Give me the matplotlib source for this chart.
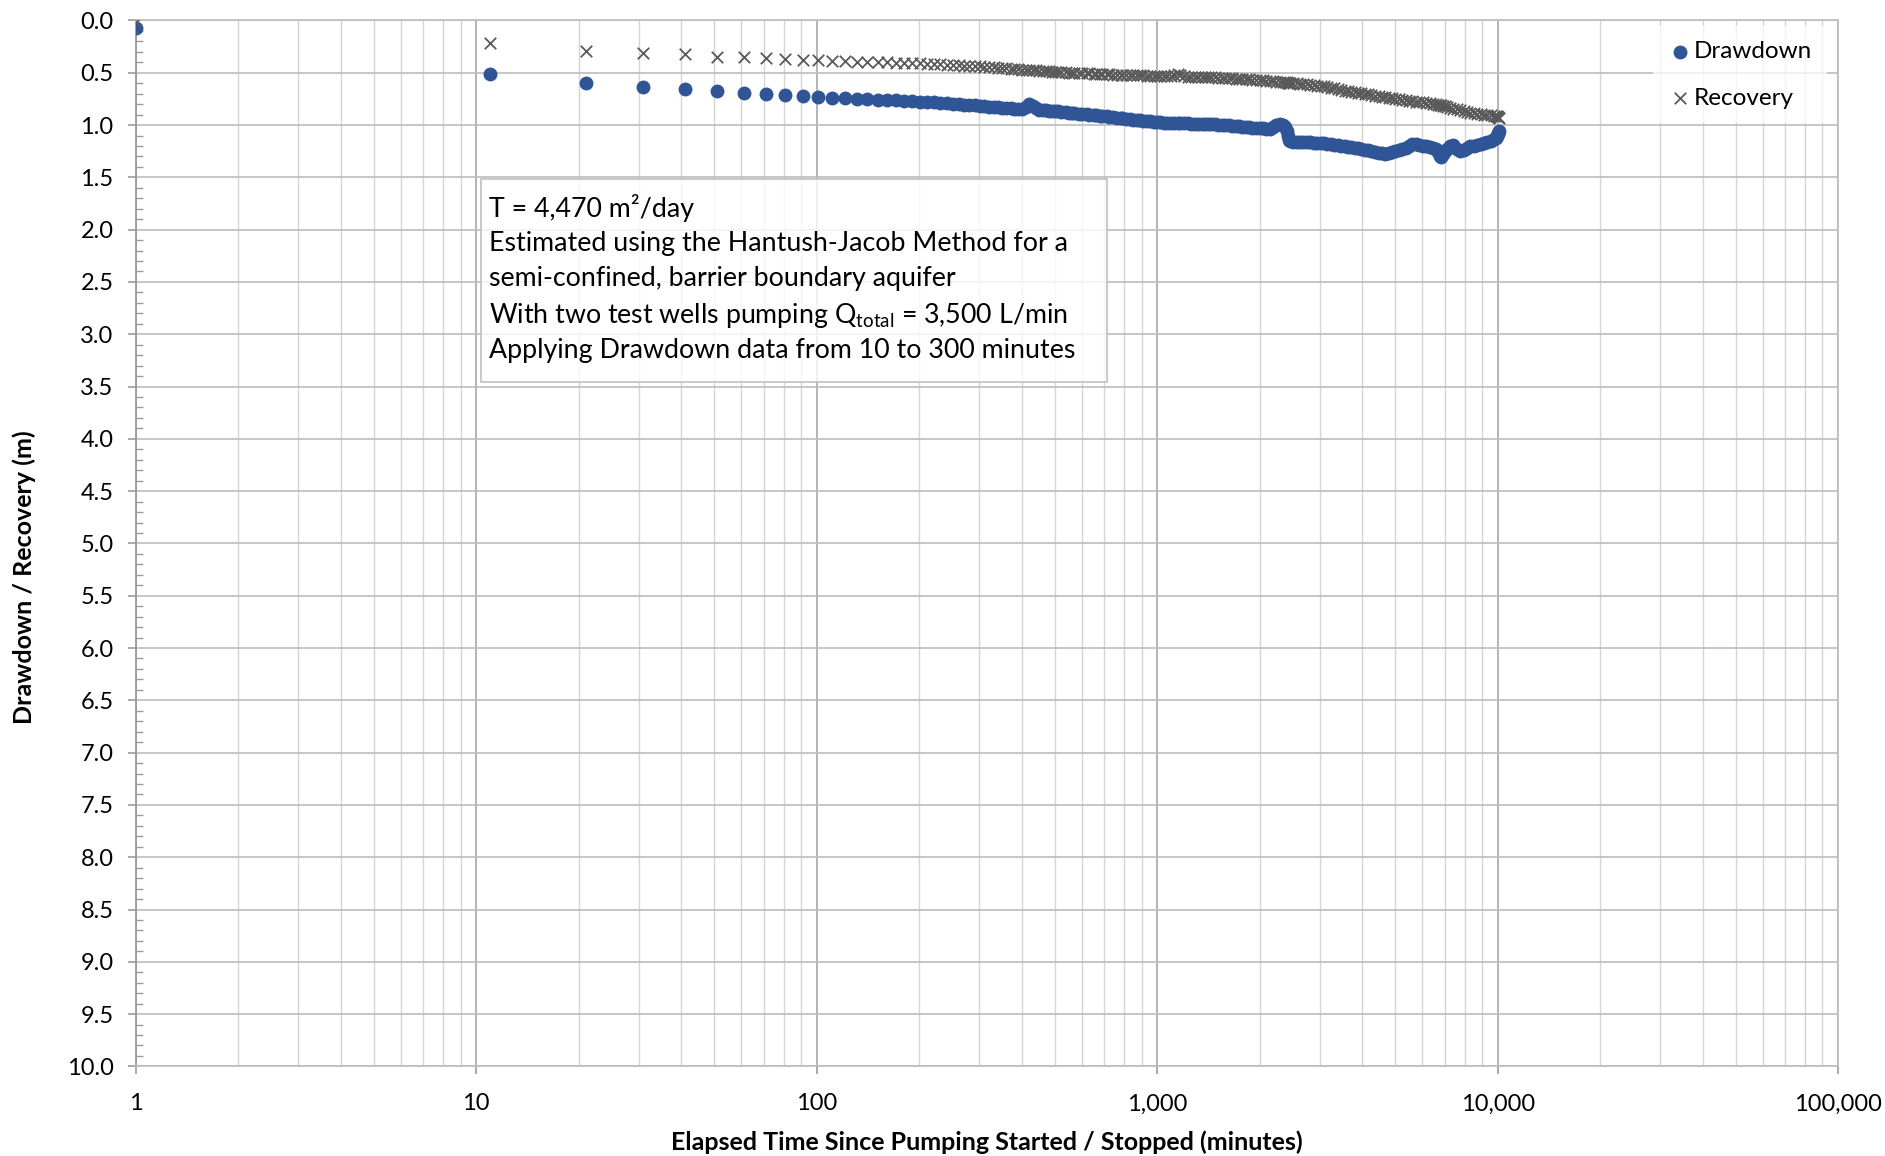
import matplotlib
matplotlib.use("Agg")
import matplotlib.pyplot as plt
from matplotlib.ticker import LogLocator, MultipleLocator, FuncFormatter, NullFormatter
from matplotlib.patches import Rectangle

# Elapsed time since pumping started / stopped (minutes)
elapsed_min = [
    1, 11, 21, 31, 41, 51, 61, 71, 81, 91,
    101, 111, 121, 131, 141, 151, 161, 171, 181, 191,
    201, 211, 221, 231, 241, 251, 261, 271, 281, 291,
    301, 311, 321, 331, 341, 351, 361, 371, 381, 391,
    401, 411, 421, 431, 441, 451, 461, 471, 481, 491,
    501, 511, 521, 541, 551, 561, 571, 591, 601, 621,
    631, 651, 661, 681, 691, 711, 721, 741, 761, 781,
    791, 811, 831, 851, 871, 891, 911, 931, 951, 981,
    1001, 1021, 1051, 1071, 1101, 1121, 1151, 1171, 1201, 1231,
    1261, 1291, 1321, 1351, 1381, 1411, 1441, 1481, 1511, 1551,
    1581, 1621, 1661, 1701, 1741, 1781, 1821, 1861, 1901, 1951,
    2001, 2041, 2091, 2141, 2191, 2241, 2291, 2341, 2381, 2401,
    2421, 2441, 2451, 2511, 2571, 2631, 2691, 2751, 2821, 2881,
    2951, 3021, 3091, 3161, 3231, 3311, 3391, 3471, 3551, 3631,
    3711, 3801, 3891, 3981, 4071, 4171, 4261, 4361, 4471, 4571,
    4681, 4791, 4901, 5011, 5131, 5251, 5371, 5491, 5621, 5751,
    5891, 6021, 6161, 6311, 6461, 6611, 6681, 6761, 6841, 6921,
    7001, 7081, 7241, 7411, 7591, 7761, 7941, 8131, 8321, 8511,
    8711, 8911, 9121, 9331, 9551, 9771, 9881, 9941, 10001, 10041,
    10081,
]

# Drawdown during pumping (m)
drawdown_m = [
    0.075, 0.515, 0.595, 0.635, 0.655, 0.675, 0.690, 0.700, 0.712, 0.722,
    0.732, 0.738, 0.744, 0.749, 0.753, 0.757, 0.760, 0.764, 0.768, 0.772,
    0.776, 0.780, 0.784, 0.788, 0.792, 0.796, 0.800, 0.804, 0.808, 0.812,
    0.815, 0.819, 0.823, 0.827, 0.831, 0.835, 0.838, 0.841, 0.844, 0.847,
    0.849, 0.830, 0.800, 0.815, 0.840, 0.852, 0.855, 0.858, 0.861, 0.864,
    0.867, 0.870, 0.873, 0.877, 0.880, 0.883, 0.886, 0.890, 0.893, 0.897,
    0.900, 0.904, 0.907, 0.911, 0.914, 0.918, 0.921, 0.925, 0.929, 0.933,
    0.936, 0.940, 0.944, 0.948, 0.952, 0.956, 0.960, 0.963, 0.966, 0.970,
    0.973, 0.975, 0.977, 0.978, 0.980, 0.981, 0.982, 0.983, 0.984, 0.985,
    0.986, 0.987, 0.988, 0.989, 0.990, 0.991, 0.992, 0.994, 0.996, 0.998,
    1.000, 1.003, 1.006, 1.009, 1.012, 1.015, 1.018, 1.021, 1.024, 1.027,
    1.030, 1.032, 1.034, 1.036, 1.020, 0.995, 0.990, 1.000, 1.020, 1.060,
    1.100, 1.140, 1.150, 1.160, 1.162, 1.160, 1.158, 1.160, 1.165, 1.168,
    1.170, 1.172, 1.176, 1.180, 1.184, 1.188, 1.192, 1.196, 1.200, 1.206,
    1.212, 1.218, 1.224, 1.230, 1.236, 1.242, 1.250, 1.258, 1.265, 1.270,
    1.272, 1.268, 1.260, 1.250, 1.240, 1.228, 1.215, 1.200, 1.185, 1.180,
    1.190, 1.200, 1.205, 1.210, 1.215, 1.225, 1.260, 1.300, 1.310, 1.280,
    1.245, 1.230, 1.205, 1.195, 1.230, 1.250, 1.235, 1.215, 1.205, 1.200,
    1.190, 1.180, 1.170, 1.160, 1.150, 1.135, 1.120, 1.105, 1.090, 1.075,
    1.060,
]

# Residual drawdown during recovery (m)
recovery_m = [
    0.010, 0.218, 0.288, 0.312, 0.322, 0.345, 0.350, 0.360, 0.368, 0.375,
    0.382, 0.386, 0.390, 0.393, 0.396, 0.399, 0.401, 0.403, 0.405, 0.407,
    0.410, 0.413, 0.416, 0.419, 0.422, 0.425, 0.428, 0.431, 0.434, 0.437,
    0.440, 0.443, 0.446, 0.449, 0.452, 0.455, 0.458, 0.461, 0.464, 0.467,
    0.470, 0.472, 0.474, 0.476, 0.478, 0.480, 0.482, 0.484, 0.486, 0.488,
    0.490, 0.492, 0.494, 0.496, 0.498, 0.499, 0.500, 0.502, 0.503, 0.505,
    0.506, 0.508, 0.509, 0.511, 0.512, 0.514, 0.515, 0.517, 0.518, 0.519,
    0.520, 0.521, 0.522, 0.523, 0.524, 0.525, 0.526, 0.527, 0.528, 0.530,
    0.531, 0.532, 0.533, 0.534, 0.530, 0.522, 0.515, 0.520, 0.532, 0.536,
    0.537, 0.538, 0.539, 0.540, 0.541, 0.542, 0.543, 0.545, 0.546, 0.548,
    0.549, 0.551, 0.553, 0.555, 0.557, 0.559, 0.561, 0.563, 0.565, 0.567,
    0.570, 0.572, 0.575, 0.578, 0.581, 0.584, 0.587, 0.590, 0.592, 0.593,
    0.594, 0.595, 0.596, 0.599, 0.602, 0.605, 0.608, 0.611, 0.615, 0.618,
    0.622, 0.626, 0.630, 0.635, 0.642, 0.650, 0.658, 0.665, 0.671, 0.676,
    0.681, 0.686, 0.691, 0.696, 0.701, 0.706, 0.712, 0.718, 0.724, 0.730,
    0.735, 0.740, 0.745, 0.750, 0.755, 0.759, 0.763, 0.767, 0.771, 0.775,
    0.779, 0.783, 0.788, 0.793, 0.798, 0.803, 0.806, 0.809, 0.813, 0.817,
    0.821, 0.825, 0.833, 0.842, 0.851, 0.860, 0.868, 0.875, 0.881, 0.886,
    0.891, 0.896, 0.900, 0.904, 0.908, 0.912, 0.915, 0.918, 0.921, 0.925,
    0.930,
]

note_lines = [
    "T = 4,470 m\u00b2/day",
    "Estimated using the Hantush-Jacob Method for a",
    "semi-confined, barrier boundary aquifer",
    r"With two test wells pumping Q$_\mathregular{total}$ = 3,500 L/min",
    "Applying Drawdown data from 10 to 300 minutes",
]

BLUE = "#2F5597"
GREY = "#595959"

plt.rcParams["font.family"] = ["Lato", "DejaVu Sans"]
plt.rcParams["mathtext.fontset"] = "custom"
plt.rcParams["mathtext.rm"] = "Lato"
plt.rcParams["mathtext.it"] = "Lato:italic"
plt.rcParams["mathtext.bf"] = "Lato:bold"

fig = plt.figure(figsize=(18.85, 11.56), dpi=100)
ax = fig.add_axes([0.0720, 0.0775, 0.9031, 0.9048])

ax.scatter(elapsed_min, drawdown_m, s=100, color=BLUE, marker="o",
           linewidths=0, label="Drawdown", zorder=3)
ax.scatter(elapsed_min, recovery_m, s=68, color=GREY, marker="x",
           linewidths=1.3, label="Recovery", zorder=4)

ax.set_xscale("log")
ax.set_xlim(1, 100000)
ax.set_ylim(10, 0)

ax.xaxis.set_major_locator(LogLocator(base=10, numticks=10))
ax.xaxis.set_minor_locator(LogLocator(base=10, subs=range(2, 10), numticks=100))
ax.xaxis.set_major_formatter(FuncFormatter(lambda v, p: f"{int(round(v)):,}"))
ax.xaxis.set_minor_formatter(NullFormatter())
ax.yaxis.set_major_locator(MultipleLocator(0.5))
ax.yaxis.set_minor_locator(MultipleLocator(0.1))
ax.yaxis.set_major_formatter(FuncFormatter(lambda v, p: f"{v:.1f}"))

ax.grid(which="minor", axis="x", color="#d4d4d4", lw=1.0, zorder=0)
ax.grid(which="major", axis="x", color="#a8a8a8", lw=1.2, zorder=0)
ax.grid(which="major", axis="y", color="#bcbcbc", lw=1.2, zorder=0)
ax.set_axisbelow(True)

for side in ("top", "right", "bottom"):
    ax.spines[side].set_color("#bcbcbc")
    ax.spines[side].set_linewidth(1.2)
ax.spines["left"].set_color("#9a9a9a")
ax.spines["left"].set_linewidth(1.3)

ax.tick_params(axis="x", which="major", direction="out", length=6, width=1.2,
               color="#9a9a9a", labelsize=17, pad=13.5, labelcolor="#000000")
ax.tick_params(axis="x", which="minor", length=0)
ax.tick_params(axis="y", which="major", direction="out", length=6, width=1.2,
               color="#9a9a9a", labelsize=17, pad=10, labelcolor="#000000")
ax.tick_params(axis="y", which="minor", direction="in", length=4.8, width=1.0,
               color="#9a9a9a")

ax.set_xlabel("Elapsed Time Since Pumping Started / Stopped (minutes)",
              fontsize=18, fontweight="bold")
ax.xaxis.set_label_coords(0.5, -0.0723)
ax.xaxis.label.set_va("center")
ax.set_ylabel("Drawdown / Recovery (m)", fontsize=18, fontweight="bold")
ax.yaxis.set_label_coords(-0.0657, 0.468)
ax.yaxis.label.set_va("center")

leg = ax.legend(loc="upper right", bbox_to_anchor=(0.9935, 0.9943), frameon=True,
                facecolor="white", framealpha=0.75, edgecolor="none",
                fontsize=17.5, handletextpad=0.1, labelspacing=1.05,
                borderpad=0.6, borderaxespad=0.0, scatterpoints=1,
                handlelength=1.0, fancybox=False)

# Annotation box with the aquifer analysis summary
box = Rectangle((0.2552, 0.6696), 0.3321, 0.1756, transform=fig.transFigure,
                facecolor=(1, 1, 1, 0.8), edgecolor="#c4c4c4", lw=1.3, zorder=5)
fig.patches.append(box)
line_y = [0.8225, 0.7914, 0.7612, 0.7300, 0.6988]
for txt, yy in zip(note_lines, line_y):
    fig.text(0.2594, yy, txt, fontsize=19.3, va="center_baseline", ha="left",
             color="#000000", zorder=6)

fig.savefig("out.png", dpi=100)
